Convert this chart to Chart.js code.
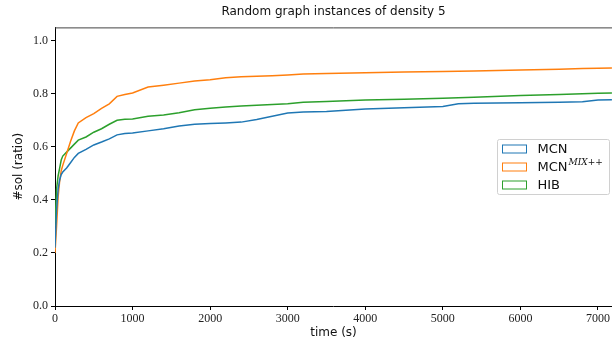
<!DOCTYPE html>
<html>
<head>
<meta charset="utf-8">
<script src="https://cdn.jsdelivr.net/npm/chart.js@4"></script>
<style>
  html, body { margin: 0; padding: 0; background: #fff; overflow: hidden; }
  #wrap { width: 612px; height: 343px; }
</style>
</head>
<body>
<div id="wrap"><canvas id="c" width="612" height="343"></canvas></div>
<script>
const times = [0, 20, 40, 60, 80, 100, 150, 200, 250, 300, 400, 500, 600, 700, 800, 900, 1000,
  1200, 1400, 1600, 1800, 2000, 2200, 2400, 2600, 2800, 3000, 3200, 3500, 4000, 4500,
  5000, 5200, 5400, 6000, 6500, 6800, 7000, 7180];

const mcn = [0.22, 0.36, 0.44, 0.475, 0.495, 0.505, 0.52, 0.54, 0.56, 0.575, 0.59, 0.607, 0.618,
  0.63, 0.645, 0.65, 0.652, 0.66, 0.668, 0.678, 0.685, 0.688, 0.69, 0.693, 0.703, 0.715, 0.727,
  0.731, 0.733, 0.742, 0.747, 0.752, 0.762, 0.764, 0.766, 0.768, 0.77, 0.776, 0.777];

const mcnMix = [0.2, 0.3, 0.41, 0.47, 0.51, 0.53, 0.575, 0.62, 0.66, 0.69, 0.71, 0.725, 0.745,
  0.762, 0.79, 0.797, 0.803, 0.825, 0.832, 0.84, 0.848, 0.853, 0.86, 0.864, 0.866, 0.868, 0.871,
  0.874, 0.876, 0.879, 0.882, 0.884, 0.885, 0.886, 0.889, 0.892, 0.895, 0.896, 0.897];

const hib = [0.3, 0.44, 0.49, 0.52, 0.55, 0.565, 0.58, 0.595, 0.61, 0.625, 0.637, 0.655, 0.668,
  0.685, 0.7, 0.704, 0.705, 0.715, 0.72, 0.728, 0.74, 0.745, 0.75, 0.754, 0.757, 0.759, 0.762,
  0.768, 0.771, 0.776, 0.779, 0.783, 0.785, 0.787, 0.793, 0.797, 0.8, 0.802, 0.803];

const xTicks = [0, 1000, 2000, 3000, 4000, 5000, 6000, 7000];
const yTicks = [0, 0.2, 0.4, 0.6, 0.8, 1.0];

const names = ["MCN", "MCN", "HIB"];
const supers = ["", "MIX++", ""];
const colours = ["#1f77b4", "#ff7f0e", "#2ca02c"];

const pts = (ys) => times.map((t, i) => ({ x: t, y: ys[i] }));

// legend with a superscript label, and the top spine
const extras = {
  id: "extras",
  afterDraw(chart) {
    const ctx = chart.ctx;
    const a = chart.chartArea;
    ctx.save();
    ctx.strokeStyle = "#444";
    ctx.lineWidth = 1;
    ctx.beginPath();
    ctx.moveTo(a.left, a.top + 0.5);
    ctx.lineTo(chart.width, a.top + 0.5);
    ctx.stroke();

    const w = 112, h = 55;
    const x0 = 497.5;
    const y0 = Math.round((a.top + a.bottom) / 2 - h / 2) + 0.5;
    ctx.fillStyle = "rgba(255,255,255,0.85)";
    ctx.strokeStyle = "#d0d0d0";
    ctx.beginPath();
    ctx.roundRect(x0, y0, w, h, 2);
    ctx.fill();
    ctx.stroke();

    ctx.textBaseline = "middle";
    names.forEach((n, i) => {
      const cy = y0 + 9.5 + i * 18;
      ctx.strokeStyle = colours[i];
      ctx.lineWidth = 1;
      ctx.strokeRect(x0 + 5, cy - 4, 24, 8);
      ctx.fillStyle = "#111";
      ctx.font = "13px 'DejaVu Sans'";
      ctx.fillText(n, x0 + 40, cy + 1);
      if (supers[i]) {
        const nw = ctx.measureText(n).width;
        ctx.font = "italic 9px 'DejaVu Serif'";
        ctx.fillText(supers[i], x0 + 40 + nw + 1, cy - 4);
      }
    });
    ctx.restore();
  }
};

new Chart(document.getElementById("c").getContext("2d"), {
  type: "line",
  data: {
    datasets: [
      { label: "MCN", data: pts(mcn), borderColor: colours[0] },
      { label: "MCN MIX++", data: pts(mcnMix), borderColor: colours[1] },
      { label: "HIB", data: pts(hib), borderColor: colours[2] },
    ].map((d) => Object.assign(d, { borderWidth: 1.5, pointRadius: 0, tension: 0, fill: false })),
  },
  options: {
    responsive: false,
    animation: false,
    layout: { padding: { top: 0, right: 0, bottom: 0, left: 0 } },
    plugins: {
      legend: { display: false },
      tooltip: { enabled: false },
      title: {
        display: true,
        fullSize: false,
        text: "Random graph instances of density 5",
        color: "#111",
        font: { family: "DejaVu Sans", size: 12, weight: "normal" },
        padding: { top: 5, bottom: 8 },
      },
    },
    scales: {
      x: {
        type: "linear",
        min: 0,
        max: 7180,
        afterFit: (s) => { s.height = 37; },
        afterBuildTicks: (s) => { s.ticks = xTicks.map((v) => ({ value: v })); },
        border: { color: "#000", width: 1 },
        grid: { drawOnChartArea: false, drawTicks: true, tickLength: 4, color: "#000" },
        ticks: {
          maxRotation: 0,
          autoSkip: false,
          color: "#222",
          padding: 2,
          callback: (v) => String(v),
          font: { family: "Liberation Serif", size: 12 },
        },
        title: {
          display: true,
          text: "time (s)",
          color: "#111",
          font: { family: "DejaVu Sans", size: 12 },
          padding: { top: 0, bottom: 3 },
        },
      },
      y: {
        min: 0,
        max: 1.05,
        afterFit: (s) => { s.width = 55; },
        afterBuildTicks: (s) => { s.ticks = yTicks.map((v) => ({ value: v })); },
        border: { color: "#000", width: 1 },
        grid: { drawOnChartArea: false, drawTicks: true, tickLength: 4, color: "#000" },
        ticks: {
          autoSkip: false,
          color: "#222",
          padding: 3,
          callback: (v) => v.toFixed(1),
          font: { family: "Liberation Serif", size: 12 },
        },
        title: {
          display: true,
          text: "#sol (ratio)",
          color: "#111",
          font: { family: "DejaVu Sans", size: 12 },
          padding: { top: 12, bottom: 0 },
        },
      },
    },
  },
  plugins: [extras],
});
</script>
</body>
</html>
